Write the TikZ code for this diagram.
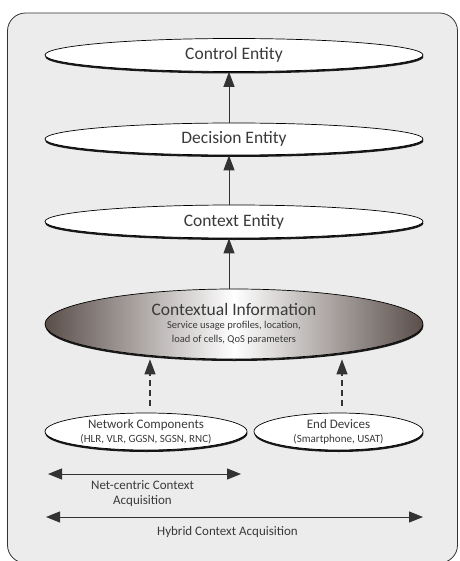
\documentclass[tikz,border=0pt]{standalone}
\usepackage{fontspec}
\setmainfont{Carlito}
\usepackage{tikz}
\usetikzlibrary{arrows.meta,shapes.geometric,shadows,positioning}
\definecolor{boxgray}{HTML}{ECECEC}
\definecolor{txtgray}{HTML}{3A3A3A}
\definecolor{linegray}{HTML}{333333}
\definecolor{ctxdark}{HTML}{5A4E4A}
\newcommand{\entfont}{\fontsize{17.5}{20}\selectfont}
\newcommand{\srcfont}{\fontsize{13}{15}\selectfont}
\newcommand{\subfont}{\fontsize{11}{14}\selectfont}
\newcommand{\detfont}{\fontsize{10.5}{14}\selectfont}
\tikzset{>={Triangle[length=15pt,width=11pt]}}
\tikzset{
  entity/.style={ellipse, draw=black, line width=0.7pt, fill=white, inner sep=-4pt,
    text=txtgray, align=center,
    drop shadow={shadow xshift=0.4pt, shadow yshift=-2pt, fill=black!90, opacity=1}},
  flowarrow/.style={->, draw=linegray, line width=1pt},
  feedarrow/.style={->, draw=linegray, line width=1.2pt, dash pattern=on 6pt off 4pt, shorten <=7pt},
  spanarrow/.style={<->, draw=linegray, line width=1pt, >={Triangle[length=14pt,width=11pt]}},
  spanlabel/.style={text=txtgray, font=\srcfont, align=center}
}

\begin{document}
\begin{tikzpicture}[x=1pt, y=-1pt]
\def\xmid {234}    % x-position of the centre of the big ellipses
\def\xflow {-5pt}  % offset of the vertical flow line from that centre
\def\bigW {378}    % width of the big ellipses
\useasboundingbox (0,0) rectangle (459,561);
% frame:
 \begin{scope}
 \clip (0,0) rectangle (459,561);
 \draw[draw=linegray, fill=boxgray, line width=0.8pt, rounded corners=18pt] (7.5,13) rectangle (457.5,563);
 \end{scope}
% entities:
 \node[entity, minimum width=\bigW pt, minimum height=33pt, font=\entfont] (control) at (\xmid,55) {Control Entity};
 \node[entity, minimum width=\bigW pt, minimum height=32pt, font=\entfont] (decision) at (\xmid,139) {Decision Entity};
 \node[entity, minimum width=\bigW pt, minimum height=33pt, font=\entfont] (context) at (\xmid,221.5) {Context Entity};
 \node[entity, left color=ctxdark, right color=ctxdark, middle color=white, minimum width=\bigW pt, minimum height=70pt, font=\detfont] (ctxinfo) at (\xmid,324)
   {{\entfont Contextual Information}\\[-0.5pt]Service usage profiles, location,\\load of cells, QoS parameters};
% sources:
 \node[entity, minimum width=202pt, minimum height=37pt, font=\subfont] (netcomp) at (146,431.5)
   {{\srcfont Network Components}\\(HLR, VLR, GGSN, SGSN, RNC)};
 \node[entity, minimum width=169pt, minimum height=37pt, font=\subfont] (enddev) at (338.5,431.5)
   {{\srcfont End Devices}\\(Smartphone, USAT)};
%% flow:
 \draw[flowarrow] ([xshift=\xflow]decision.north) -- ([xshift=\xflow]control.south);
 \draw[flowarrow] ([xshift=\xflow]context.north) -- ([xshift=\xflow]decision.south);
 \draw[flowarrow] ([xshift=\xflow]ctxinfo.north) -- ([xshift=\xflow]context.south);
 \draw[feedarrow] ([xshift=4pt]netcomp.north) -- ([xshift=4pt]netcomp.north |- ctxinfo.south);
 \draw[feedarrow] ([xshift=3.5pt]enddev.north) -- ([xshift=3.5pt]enddev.north |- ctxinfo.south);
%% acquisition ranges:
 \coordinate (netL) at (48,474);
 \coordinate (netR) at (241,474);
 \coordinate (hybL) at (46,517);
 \coordinate (hybR) at (423,517);
 \draw[spanarrow] (netL) -- (netR) node[spanlabel, midway, below=3pt, xshift=-2pt] (netlabel) {Net-centric Context\\Acquisition};
 \draw[spanarrow] (hybL) -- (hybR) node[spanlabel, midway, below=6pt, xshift=-7pt] (hyblabel) {Hybrid Context Acquisition};
\end{tikzpicture}
\end{document}
